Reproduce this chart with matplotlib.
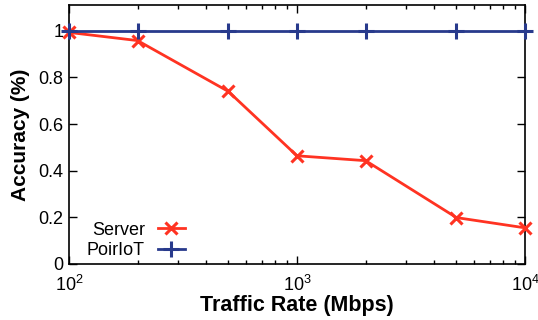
import matplotlib
matplotlib.use("Agg")
import matplotlib.pyplot as plt
from matplotlib.ticker import FixedLocator, LogLocator, NullFormatter

plt.rcParams['font.family'] = ['Liberation Sans', 'DejaVu Sans']
plt.rcParams['mathtext.fontset'] = 'custom'
plt.rcParams['mathtext.rm'] = 'Liberation Sans'
plt.rcParams['mathtext.it'] = 'Liberation Sans'

rates = [100, 200, 500, 1000, 2000, 5000, 10000]
server = [0.993, 0.958, 0.74, 0.464, 0.443, 0.199, 0.155]
poiriot = [1.0, 1.0, 1.0, 1.0, 1.0, 1.0, 1.0]
yticks = [0, 0.2, 0.4, 0.6, 0.8, 1]
yticklabels = ["0", "0.2", "0.4", "0.6", "0.8", "1"]

fig = plt.figure(figsize=(5.38, 3.2), dpi=100)
ax = fig.add_axes([0.128, 0.175, 0.848, 0.809])

ax.plot(rates, server, color='#ff3322', lw=2, marker='x', ms=9, mew=2.2,
        label='Server', clip_on=False, zorder=3)
ax.plot(rates, poiriot, color='#283a8c', lw=2, marker='+', ms=11, mew=2.2,
        label='PoirIoT', clip_on=False, zorder=4)

ax.set_xscale('log')
ax.set_xlim(100, 10000)
ax.set_ylim(0, 1.11)
ax.set_yticks(yticks)
ax.set_yticklabels(yticklabels)
ax.xaxis.set_minor_locator(LogLocator(base=10, subs=range(2, 10)))
ax.xaxis.set_minor_formatter(NullFormatter())

ax.tick_params(which='both', direction='in', top=True, right=True, labelsize=13, colors='black')
ax.tick_params(which='major', length=6, width=1, pad=4)
ax.tick_params(axis='x', which='major', pad=8)
ax.tick_params(which='minor', length=3, width=1)
for s in ax.spines.values():
    s.set_linewidth(1.2)

ax.set_xlabel('Traffic Rate (Mbps)', fontsize=15.5, fontweight='bold', labelpad=0)
ax.set_ylabel('Accuracy (%)', fontsize=15, fontweight='bold', labelpad=6)

ax.legend(loc='lower left', bbox_to_anchor=(0.012, -0.031), frameon=False, markerfirst=False,
          fontsize=13, handlelength=1.5, handletextpad=0.7, labelspacing=0.2, borderaxespad=0.3)

fig.savefig('out.png', dpi=100)
